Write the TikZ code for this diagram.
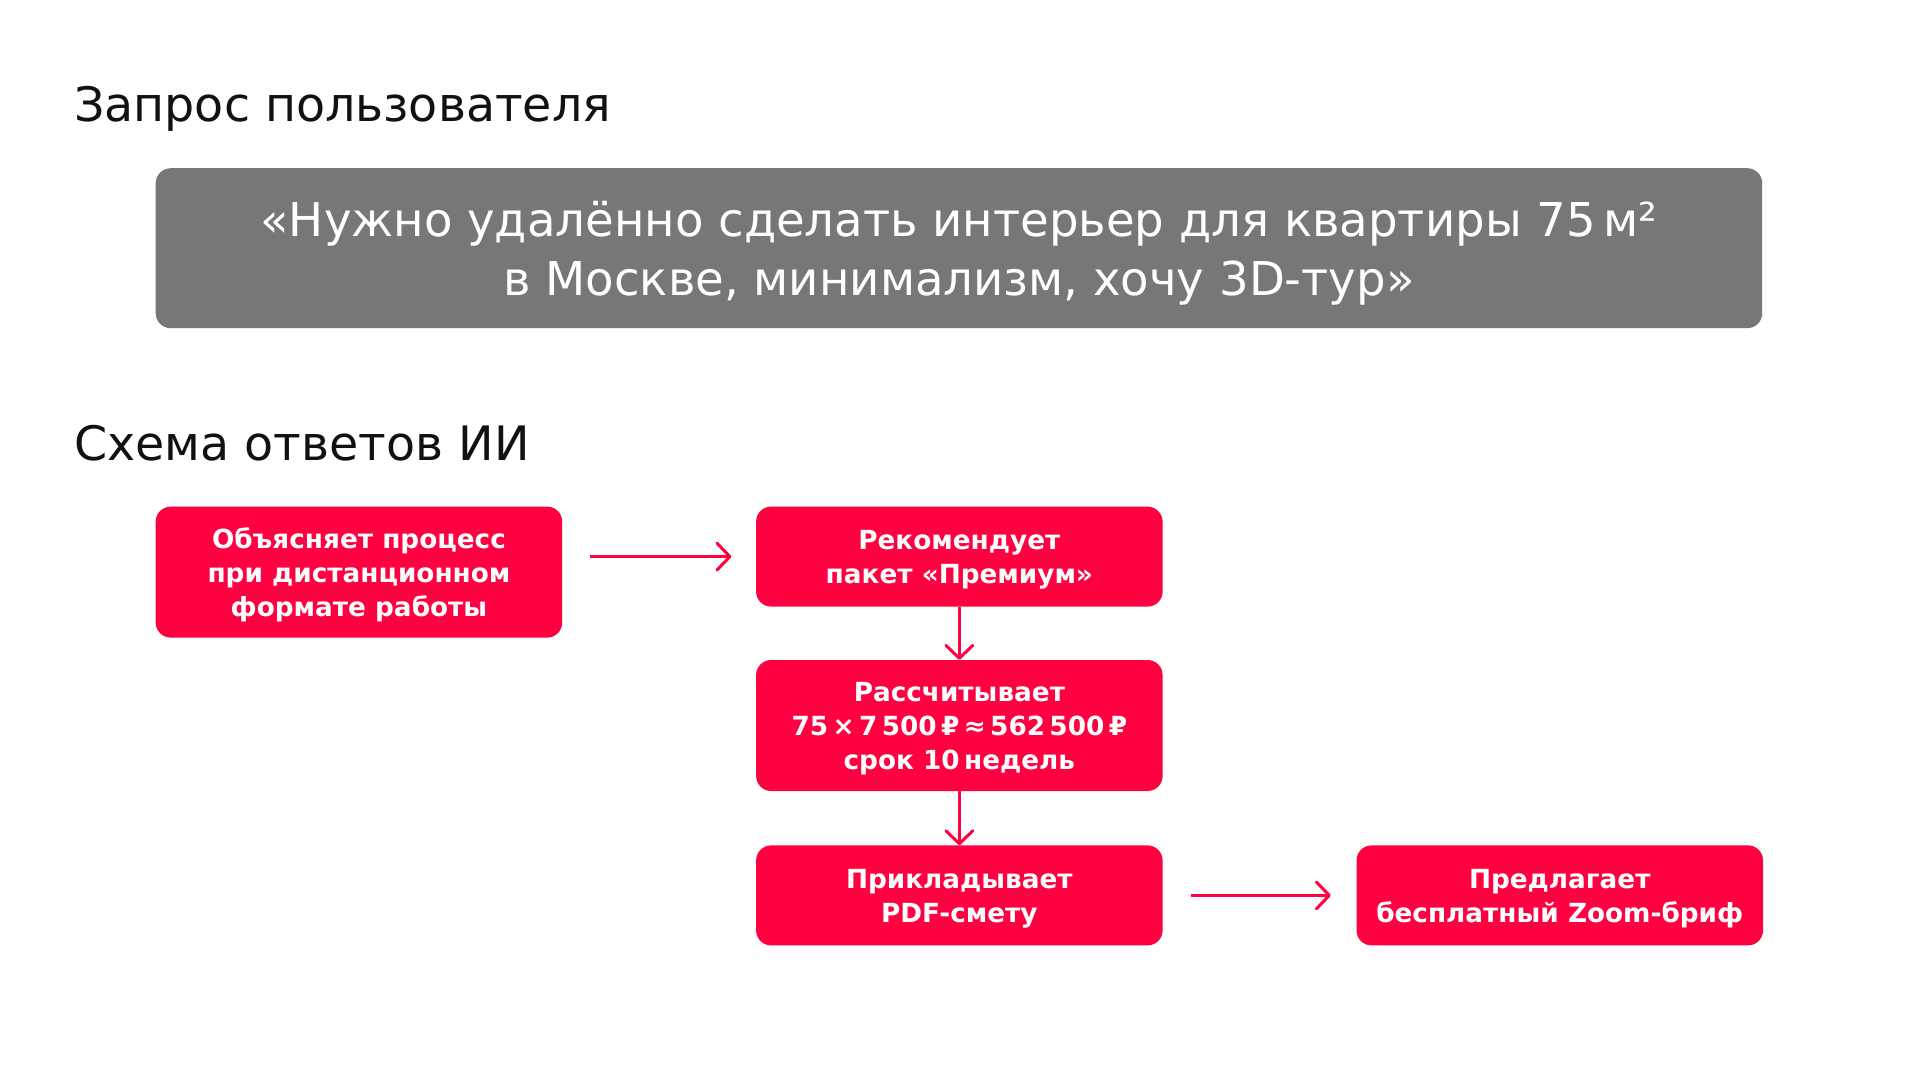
\documentclass[tikz,border=0pt]{standalone}
\usepackage{fontspec}
\setmainfont{DejaVu Sans}
\usepackage{xcolor}
\definecolor{querygray}{HTML}{777777}
\definecolor{answerred}{HTML}{FF0040}
\definecolor{textblack}{HTML}{111111}
\usepackage{tikz}
\usetikzlibrary{positioning,arrows.meta}

\begin{document}
\begin{tikzpicture}[x=1pt, y=1pt, heading/.style={
					anchor=base west, inner sep=0pt, text=textblack,
					font=\fontsize{47.5}{57}\selectfont},
				query/.style={
					rectangle, minimum width=1606.5pt, minimum height=160pt, inner sep=0pt,
					rounded corners=15pt, fill=querygray, text=white, align=center,
					text depth=0pt, font=\fontsize{46.6}{59}\selectfont},
				answer/.style={
					rectangle, minimum width=406.5pt, minimum height=100pt, inner sep=0pt,
					rounded corners=15pt, fill=answerred, text=white, align=center,
					text depth=0pt, font=\bfseries\fontsize{26.3}{34}\selectfont},
				flow/.style={
					draw=answerred, line width=3pt,
					-{Straight Barb[length=13pt,width=27pt,round]}}]
		\fill[white] (0,0) rectangle (1920,-1080);
		\node (Q) [heading] at (74,-121) {Запрос пользователя};
		\node (query) [query,  below right=47pt and 81.5pt of Q.base west] {«Нужно удалённо сделать интерьер для квартиры 75\,м²\\в Москве, минимализм, хочу 3D-тур»};
		\node (S) [heading,  below left=132pt and 81.5pt of query.south west,anchor=base west] {Схема ответов ИИ};
		\node (A) [answer,  minimum height=131pt, below right=46pt and 81.5pt of S.base west] {Объясняет процесс\\при дистанционном\\формате работы};
		\node (B) [answer,  right=193.5pt of A.north east,anchor=north west] {Рекомендует\\пакет «Премиум»};
		\node (C) [answer,  minimum height=131pt, below=53pt of B] {Рассчитывает\\75\,×\,7\,500\,₽\,≈\,562\,500\,₽\\срок 10\,недель};
		\node (D) [answer,  below=54pt of C] {Прикладывает\\PDF-смету};
		\node (E) [answer,  right=193.5pt of D] {Предлагает\\бесплатный Zoom-бриф};
		\draw[flow, shorten <=28pt, shorten >=24.5pt] (A.east |- B.west) -- (B.west);
		\draw[flow] (B) -- (C);
		\draw[flow] (C) -- (D);
		\draw[flow, shorten <=28pt, shorten >=25.5pt] (D) -- (E);
	\end{tikzpicture}
\end{document}
